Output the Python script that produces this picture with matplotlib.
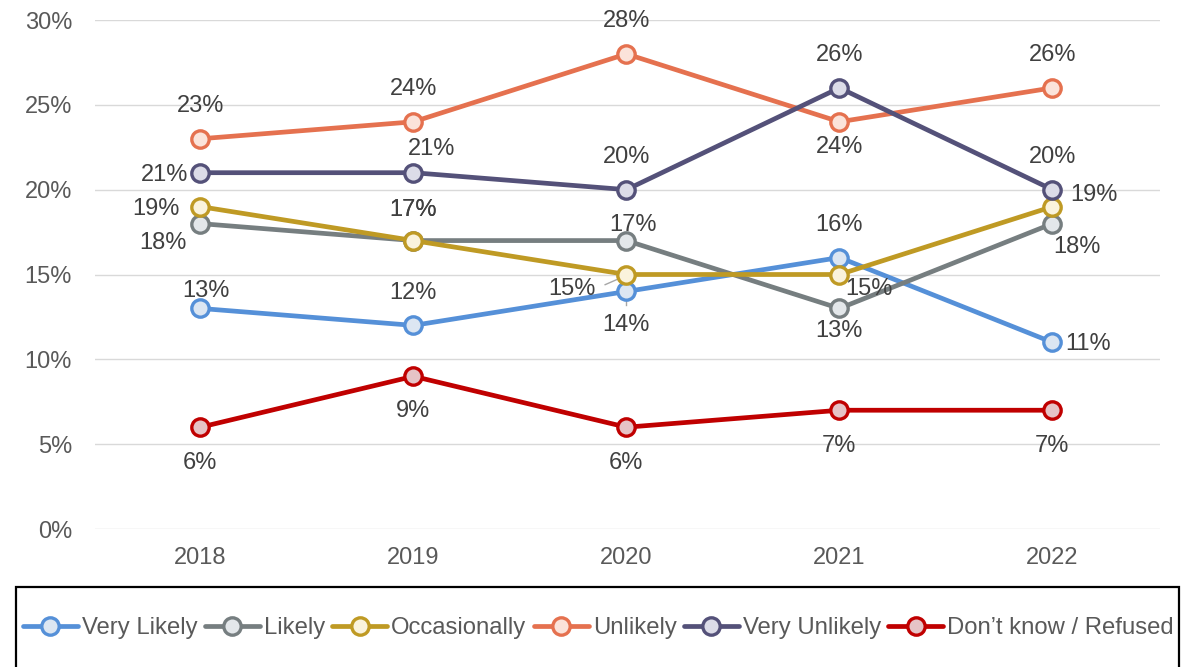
import matplotlib
matplotlib.use("Agg")
import matplotlib.pyplot as plt
from matplotlib.patches import Rectangle
from matplotlib.ticker import FuncFormatter

plt.rcParams.update({
    "font.family": ["Liberation Sans", "DejaVu Sans"],
})

years = ["2018", "2019", "2020", "2021", "2022"]
series_names = ["Very Likely", "Likely", "Occasionally", "Unlikely",
                "Very Unlikely", "Don\u2019t know / Refused"]
very_likely = [13, 12, 14, 16, 11]
likely = [18, 17, 17, 13, 18]
occasionally = [19, 17, 15, 15, 19]
unlikely = [23, 24, 28, 24, 26]
very_unlikely = [21, 21, 20, 26, 20]
dont_know = [6, 9, 6, 7, 7]
y_ticks = [0, 5, 10, 15, 20, 25, 30]

values = [very_likely, likely, occasionally, unlikely, very_unlikely, dont_know]
line_cols = ["#5590D8", "#767E80", "#BF9A24", "#E5714F", "#545179", "#C00000"]
face_cols = ["#DCE6F2", "#E3E7EA", "#FAF3DC", "#FBE3DA", "#DCDCE8", "#E6C3C6"]

# label offsets in pixels (x right, y up), per series per year
offsets = [
    [(6, 17), (0, 32), (0, -34), (0, 33), (36, -2)],
    [(-37, -19), (0, 31), (7, 16), (0, -23), (25, -23)],
    [(-44, -2), (0, 31), (-54, -14), (30, -14), (42, 12)],
    [(0, 33), (0, 33), (0, 33), (0, -25), (0, 33)],
    [(-36, -2), (18, 24), (0, 33), (0, 33), (0, 33)],
    [(0, -36), (0, -35), (0, -36), (0, -36), (0, -36)],
]

fig = plt.figure(figsize=(11.81, 6.67), dpi=100)
ax = fig.add_axes([95 / 1181, 1 - 529 / 667, 1065 / 1181, 509 / 667])
x = range(len(years))

for vals, lc, fc, offs, name in zip(values, line_cols, face_cols, offsets,
                                    series_names):
    ax.plot(x, vals, color=lc, lw=3.4, marker="o", ms=12.5,
            mfc=fc, mec=lc, mew=2.4, label=name, zorder=3,
            solid_capstyle="round")
    for xi, v, (dx, dy) in zip(x, vals, offs):
        ax.annotate(f"{v}%", (xi, v), xytext=(dx, dy),
                    textcoords="offset pixels", ha="center", va="center",
                    fontsize=17, color="#404040", zorder=5)

# leader lines for the crowded 2020 labels
ax.plot([1.90, 2.0], [14.4, 14.95], color="#A6A6A6", lw=1.0, zorder=2)
ax.plot([2.0, 2.0], [14.0, 13.2], color="#A6A6A6", lw=1.0, zorder=2)

ax.set_xlim(-0.495, 4.505)
ax.set_ylim(0, 30)
ax.set_yticks(y_ticks)
ax.yaxis.set_major_formatter(FuncFormatter(lambda v, p: f"{v:.0f}%"))
ax.set_xticks(list(x))
ax.set_xticklabels(years)
ax.tick_params(length=0, labelsize=17, labelcolor="#595959", pad=13)
ax.tick_params(axis="y", pad=16.5)
ax.grid(axis="y", color="#D9D9D9", lw=1.0)
ax.set_axisbelow(True)
for s in ax.spines.values():
    s.set_visible(False)

fig.patches.append(Rectangle((16 / 1181, -0.05), 1163 / 1181,
                             1 - 587 / 667 + 0.05,
                             transform=fig.transFigure, fill=False,
                             edgecolor="black", lw=1.6))
fig.legend(*ax.get_legend_handles_labels(), loc="center left",
           bbox_to_anchor=(23 / 1181, 1 - 628 / 667), ncol=6, frameon=False,
           fontsize=17.2, handlelength=2.3, handletextpad=0.17,
           columnspacing=0.3, labelcolor="#595959", borderpad=0,
           borderaxespad=0)

fig.savefig("out.png", dpi=100, facecolor="white")
